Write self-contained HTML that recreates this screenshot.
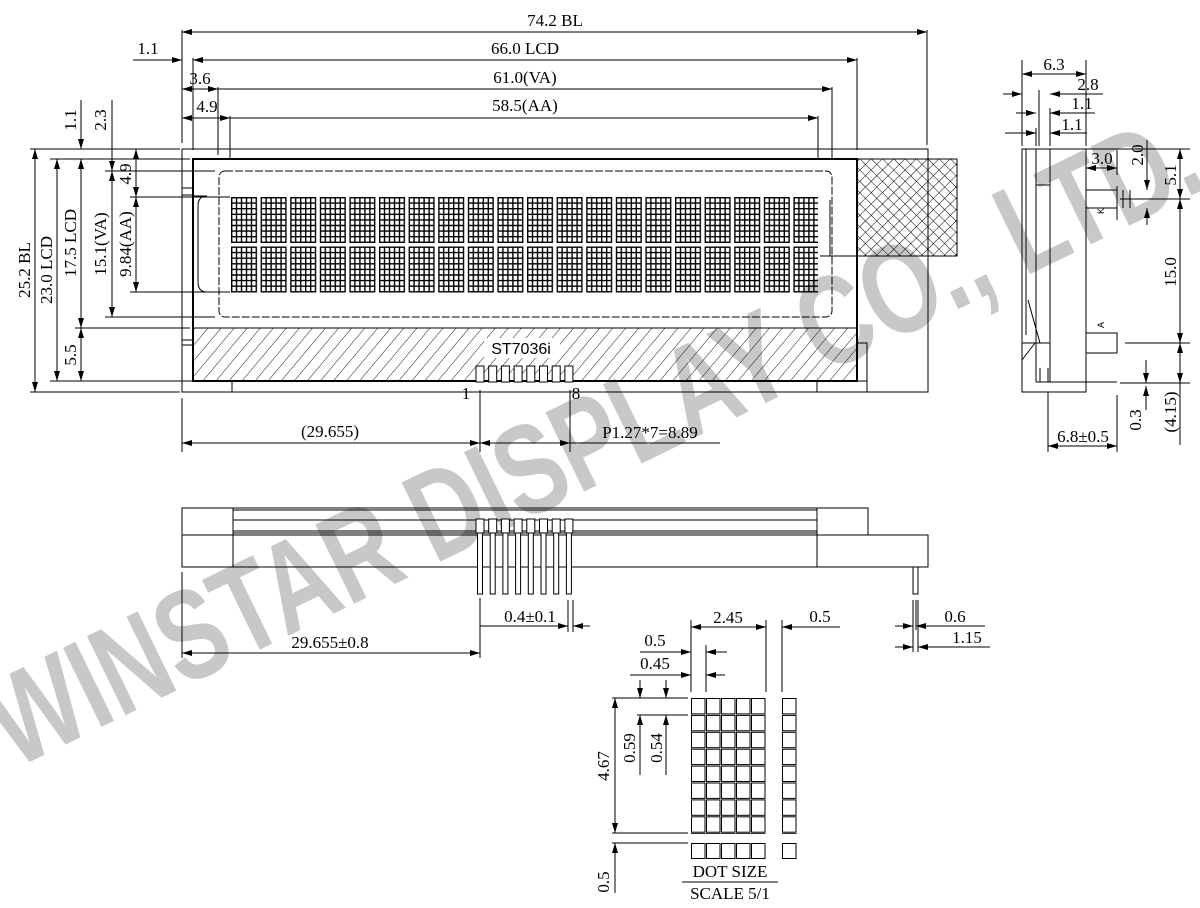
<!DOCTYPE html>
<html><head><meta charset="utf-8"><style>
html,body{margin:0;padding:0;background:#fff;}
svg{display:block;}
text{font-family:"Liberation Serif",serif;font-size:17px;fill:#000;}
</style></head><body>
<svg width="1200" height="908" viewBox="0 0 1200 908" xmlns="http://www.w3.org/2000/svg">
<defs>
<marker id="a" viewBox="0 0 10 6" refX="10" refY="3" markerWidth="10" markerHeight="6" orient="auto-start-reverse" markerUnits="userSpaceOnUse"><path d="M0,0L10,3L0,6z" fill="#000"/></marker>
<pattern id="ch" x="231" y="197" width="29.6" height="49.5" patternUnits="userSpaceOnUse">
<g stroke="#000" stroke-width="1.4" fill="none">
<rect x="0.7" y="0.7" width="24.6" height="44.6"/>
<path d="M5.5,0.5V45.5M10.5,0.5V45.5M15.5,0.5V45.5M20.5,0.5V45.5M0.5,6.1H25.5M0.5,11.7H25.5M0.5,17.3H25.5M0.5,22.9H25.5M0.5,28.5H25.5M0.5,34.1H25.5M0.5,39.7H25.5"/>
</g></pattern>
<pattern id="hat" width="10" height="10" patternUnits="userSpaceOnUse" patternTransform="rotate(40)">
<line x1="0" y1="0" x2="0" y2="10" stroke="#000" stroke-width="0.9"/></pattern>
<pattern id="xh" width="8" height="8" patternUnits="userSpaceOnUse" patternTransform="rotate(45)">
<path d="M0,0V8M0,0H8" stroke="#000" stroke-width="1"/></pattern>
<pattern id="dot" x="691" y="698" width="15" height="16.9" patternUnits="userSpaceOnUse">
<rect x="0.5" y="0.5" width="13.5" height="15.4" fill="none" stroke="#000" stroke-width="1"/></pattern>
<pattern id="dot2" x="691" y="843" width="15" height="20" patternUnits="userSpaceOnUse">
<rect x="0.5" y="0.5" width="13.5" height="15" fill="none" stroke="#000" stroke-width="1"/></pattern>
<pattern id="dotc" x="782" y="698" width="15" height="16.9" patternUnits="userSpaceOnUse">
<rect x="0.5" y="0.5" width="13.5" height="15.4" fill="none" stroke="#000" stroke-width="1"/></pattern>
<pattern id="dotc2" x="782" y="843" width="15" height="20" patternUnits="userSpaceOnUse">
<rect x="0.5" y="0.5" width="13.5" height="15" fill="none" stroke="#000" stroke-width="1"/></pattern>
</defs>

<!-- watermark -->
<text x="0" y="0" transform="translate(612,478) rotate(-26)" text-anchor="middle" style="font-family:'Liberation Sans',sans-serif;font-weight:bold;font-size:128px;fill:#c8c8c8" textLength="1330" lengthAdjust="spacingAndGlyphs">WINSTAR DISPLAY CO., LTD.</text>

<g stroke="#000" stroke-width="1" fill="none">
<rect x="182" y="149" width="746" height="243"/>
<rect x="193" y="159" width="664" height="222" stroke-width="2"/>
<rect x="219" y="171" width="613" height="146" rx="6" stroke-dasharray="8,2"/>
<rect x="193" y="328" width="664" height="53" fill="url(#hat)"/>
<rect x="857" y="159" width="100" height="97" fill="url(#xh)"/>
<rect x="857" y="343" width="10" height="38"/>
<rect x="182" y="381" width="50" height="11"/>
<rect x="817" y="381" width="50" height="11"/>
<path d="M182,188H193M182,195H193M182,340H193M182,345H193"/>
<path d="M207,196H193M207,196Q198,196 198,206V282Q198,292 207,292"/>
<path d="M820,256H857M830,200V256"/>
</g>
<rect x="231" y="197" width="587" height="96" fill="url(#ch)"/>
<rect x="484" y="338" width="76" height="20" fill="#fff"/>
<text x="521" y="354" text-anchor="middle" style="font-family:'Liberation Sans',sans-serif;font-size:16px">ST7036i</text>
<g stroke="#000" stroke-width="1" fill="#fff">
<rect x="476" y="366" width="8" height="16"/><rect x="488.7" y="366" width="8" height="16"/><rect x="501.4" y="366" width="8" height="16"/><rect x="514.1" y="366" width="8" height="16"/><rect x="526.8" y="366" width="8" height="16"/><rect x="539.5" y="366" width="8" height="16"/><rect x="552.2" y="366" width="8" height="16"/><rect x="564.9" y="366" width="8" height="16"/>
</g>
<text x="466" y="399" text-anchor="middle">1</text>
<text x="576" y="399" text-anchor="middle">8</text>

<g stroke="#000" stroke-width="1" fill="none">
<path d="M182,30V143M193,58V150M218,87V155M230,116V158M927,30V145M857,58V150M832,87V160M818,116V160"/>
<path d="M182,32H927" marker-start="url(#a)" marker-end="url(#a)"/>
<path d="M193,60H857" marker-end="url(#a)"/>
<path d="M193,60H230" marker-start="url(#a)"/>
<path d="M133,60H182" marker-end="url(#a)"/>
<path d="M218,89H832" marker-end="url(#a)"/>
<path d="M182,89H218" marker-start="url(#a)" marker-end="url(#a)"/>
<path d="M230,118H818" marker-end="url(#a)"/>
<path d="M182,118H230" marker-start="url(#a)" marker-end="url(#a)"/>
<path d="M30,149H180M50,159H190M105,171H215M130,197H230M130,292H230M105,317H215M75,328H190M50,381H190M30,392H180"/>
<path d="M35,149V392" marker-start="url(#a)" marker-end="url(#a)"/>
<path d="M57,159V381" marker-start="url(#a)" marker-end="url(#a)"/>
<path d="M81,159V328" marker-start="url(#a)" marker-end="url(#a)"/>
<path d="M81,328V381" marker-start="url(#a)" marker-end="url(#a)"/>
<path d="M81,100V149" marker-end="url(#a)"/>
<path d="M112,171V317" marker-start="url(#a)" marker-end="url(#a)"/>
<path d="M112,100V171" marker-end="url(#a)"/>
<path d="M136,149V197" marker-start="url(#a)" marker-end="url(#a)"/>
<path d="M136,197V292" marker-start="url(#a)" marker-end="url(#a)"/>
<path d="M182,398V452M480,390V452M570,390V452"/>
<path d="M182,443H480" marker-start="url(#a)" marker-end="url(#a)"/>
<path d="M480,443H720" marker-start="url(#a)"/>
<path d="M480,443H570" marker-end="url(#a)"/>
</g>
<text x="555" y="26" text-anchor="middle">74.2 BL</text>
<text x="525" y="54" text-anchor="middle">66.0 LCD</text>
<text x="148" y="54" text-anchor="middle">1.1</text>
<text x="525" y="83" text-anchor="middle">61.0(VA)</text>
<text x="200" y="84" text-anchor="middle">3.6</text>
<text x="525" y="111" text-anchor="middle">58.5(AA)</text>
<text x="207" y="112" text-anchor="middle">4.9</text>
<text transform="translate(30,270) rotate(-90)" text-anchor="middle">25.2 BL</text>
<text transform="translate(52,270) rotate(-90)" text-anchor="middle">23.0 LCD</text>
<text transform="translate(76,243) rotate(-90)" text-anchor="middle">17.5 LCD</text>
<text transform="translate(76,355) rotate(-90)" text-anchor="middle">5.5</text>
<text transform="translate(76,120) rotate(-90)" text-anchor="middle">1.1</text>
<text transform="translate(106,244) rotate(-90)" text-anchor="middle">15.1(VA)</text>
<text transform="translate(106,120) rotate(-90)" text-anchor="middle">2.3</text>
<text transform="translate(131,244) rotate(-90)" text-anchor="middle">9.84(AA)</text>
<text transform="translate(131,174) rotate(-90)" text-anchor="middle">4.9</text>
<text x="330" y="437" text-anchor="middle">(29.655)</text>
<text x="650" y="438" text-anchor="middle">P1.27*7=8.89</text>

<g stroke="#000" stroke-width="1" fill="none">
<rect x="1022" y="149" width="64" height="243"/>
<path d="M1026,149V335M1036,149V382M1050,149V382M1036,159V185M1036,185H1050"/>
<path d="M1022,343H1050M1028,300L1040,343M1022,360L1035,343"/>
<rect x="1086" y="190" width="31" height="18"/>
<rect x="1086" y="333" width="31" height="20"/>
<path d="M1036,382H1117M1040,368V382M1048,368V382"/>
<path d="M1022,60V146M1086,60V146M1048,392V452M1117,395V452M1039,90V146M1050,108V146M1036,128V146"/>
<path d="M1022,74H1086" marker-start="url(#a)" marker-end="url(#a)"/>
<path d="M1003,94H1022" marker-end="url(#a)"/>
<path d="M1050,94H1103" marker-start="url(#a)"/>
<path d="M1016,113H1036" marker-end="url(#a)"/>
<path d="M1050,113H1095" marker-start="url(#a)"/>
<path d="M1005,133H1036" marker-end="url(#a)"/>
<path d="M1050,133H1087" marker-start="url(#a)"/>
<path d="M1086,168H1117" marker-start="url(#a)" marker-end="url(#a)"/>
<path d="M1117,150V175M1117,186V220M1123,190V208M1130,190V208"/>
<path d="M1147,140V190" marker-end="url(#a)"/>
<path d="M1147,208V225" marker-start="url(#a)"/>
<path d="M1086,149H1190M1120,199H1190M1125,343H1190M1120,383H1190"/>
<path d="M1180,149V199" marker-start="url(#a)" marker-end="url(#a)"/>
<path d="M1180,199V343" marker-start="url(#a)" marker-end="url(#a)"/>
<path d="M1180,343V383" marker-start="url(#a)" marker-end="url(#a)"/>
<path d="M1180,383V445"/>
<path d="M1146,360V383" marker-end="url(#a)"/>
<path d="M1146,386V410" marker-start="url(#a)"/>
<path d="M1048,446H1117" marker-start="url(#a)" marker-end="url(#a)"/>
</g>
<text x="1054" y="70" text-anchor="middle">6.3</text>
<text x="1088" y="90" text-anchor="middle">2.8</text>
<text x="1082" y="109" text-anchor="middle">1.1</text>
<text x="1072" y="130" text-anchor="middle">1.1</text>
<text x="1102" y="164" text-anchor="middle">3.0</text>
<text transform="translate(1143,155) rotate(-90)" text-anchor="middle">2.0</text>
<text transform="translate(1176,175) rotate(-90)" text-anchor="middle">5.1</text>
<text transform="translate(1176,272) rotate(-90)" text-anchor="middle">15.0</text>
<text transform="translate(1141,420) rotate(-90)" text-anchor="middle">0.3</text>
<text transform="translate(1176,412) rotate(-90)" text-anchor="middle">(4.15)</text>
<text x="1083" y="442" text-anchor="middle">6.8±0.5</text>
<text transform="translate(1104,214) rotate(-90)" style="font-family:'Liberation Sans',sans-serif;font-size:9px">K</text>
<text transform="translate(1104,328) rotate(-90)" style="font-family:'Liberation Sans',sans-serif;font-size:9px">A</text>

<g stroke="#000" stroke-width="1" fill="none">
<rect x="182" y="508" width="686" height="27"/>
<rect x="182" y="535" width="746" height="32"/>
<path d="M233,508V567M817,508V567M233,510H817M233,520H817M233,531H817M233,533H817"/>
</g>
<g stroke="#000" stroke-width="1" fill="#fff">
<rect x="476" y="519" width="8" height="14"/><rect x="488.7" y="519" width="8" height="14"/><rect x="501.4" y="519" width="8" height="14"/><rect x="514.1" y="519" width="8" height="14"/><rect x="526.8" y="519" width="8" height="14"/><rect x="539.5" y="519" width="8" height="14"/><rect x="552.2" y="519" width="8" height="14"/><rect x="564.9" y="519" width="8" height="14"/>
<rect x="477.5" y="533" width="5" height="61"/><rect x="490.2" y="533" width="5" height="61"/><rect x="502.9" y="533" width="5" height="61"/><rect x="515.6" y="533" width="5" height="61"/><rect x="528.3" y="533" width="5" height="61"/><rect x="541" y="533" width="5" height="61"/><rect x="553.7" y="533" width="5" height="61"/><rect x="566.4" y="533" width="5" height="61"/>
<rect x="913" y="567" width="5" height="27"/>
</g>
<g stroke="#000" stroke-width="1" fill="none">
<path d="M182,572V658M480,598V658M568,600V632M573,600V632M913,600V652M916,600V630M918,600V652"/>
<path d="M182,653H480" marker-start="url(#a)" marker-end="url(#a)"/>
<path d="M480,626H568" marker-end="url(#a)"/>
<path d="M573,626H590" marker-start="url(#a)"/>
<path d="M895,626H913" marker-end="url(#a)"/>
<path d="M916,626H985" marker-start="url(#a)"/>
<path d="M895,647H913" marker-end="url(#a)"/>
<path d="M918,647H990" marker-start="url(#a)"/>
</g>
<text x="530" y="622" text-anchor="middle">0.4±0.1</text>
<text x="330" y="648" text-anchor="middle">29.655±0.8</text>
<text x="955" y="622" text-anchor="middle">0.6</text>
<text x="967" y="643" text-anchor="middle">1.15</text>

<rect x="691" y="698" width="75" height="136" fill="url(#dot)"/>
<rect x="782" y="698" width="15" height="136" fill="url(#dotc)"/>
<rect x="691" y="843" width="75" height="16" fill="url(#dot2)"/>
<rect x="782" y="843" width="15" height="16" fill="url(#dotc2)"/>
<g stroke="#000" stroke-width="1" fill="none">
<path d="M691,620V692M706,645V692M766,620V692M782,620V692"/>
<path d="M691,627H766" marker-start="url(#a)" marker-end="url(#a)"/>
<path d="M782,627H840" marker-start="url(#a)"/>
<path d="M640,652H691" marker-end="url(#a)"/>
<path d="M706,652H727" marker-start="url(#a)"/>
<path d="M630,675H691" marker-end="url(#a)"/>
<path d="M706,675H725" marker-start="url(#a)"/>
<path d="M612,698H688M637,715H688M612,833H688M612,843H688"/>
<path d="M615,698V833" marker-start="url(#a)" marker-end="url(#a)"/>
<path d="M615,843V893" marker-start="url(#a)"/>
<path d="M640,680V698" marker-end="url(#a)"/>
<path d="M640,715V775" marker-start="url(#a)"/>
<path d="M666,680V698" marker-end="url(#a)"/>
<path d="M666,715V775" marker-start="url(#a)"/>
<path d="M682,882H778"/>
</g>
<text x="728" y="623" text-anchor="middle">2.45</text>
<text x="820" y="622" text-anchor="middle">0.5</text>
<text x="655" y="646" text-anchor="middle">0.5</text>
<text x="655" y="669" text-anchor="middle">0.45</text>
<text transform="translate(609,766) rotate(-90)" text-anchor="middle">4.67</text>
<text transform="translate(635,748) rotate(-90)" text-anchor="middle">0.59</text>
<text transform="translate(662,748) rotate(-90)" text-anchor="middle">0.54</text>
<text transform="translate(609,882) rotate(-90)" text-anchor="middle">0.5</text>
<text x="730" y="877" text-anchor="middle">DOT SIZE</text>
<text x="730" y="899" text-anchor="middle">SCALE 5/1</text>
</svg>
</body></html>
